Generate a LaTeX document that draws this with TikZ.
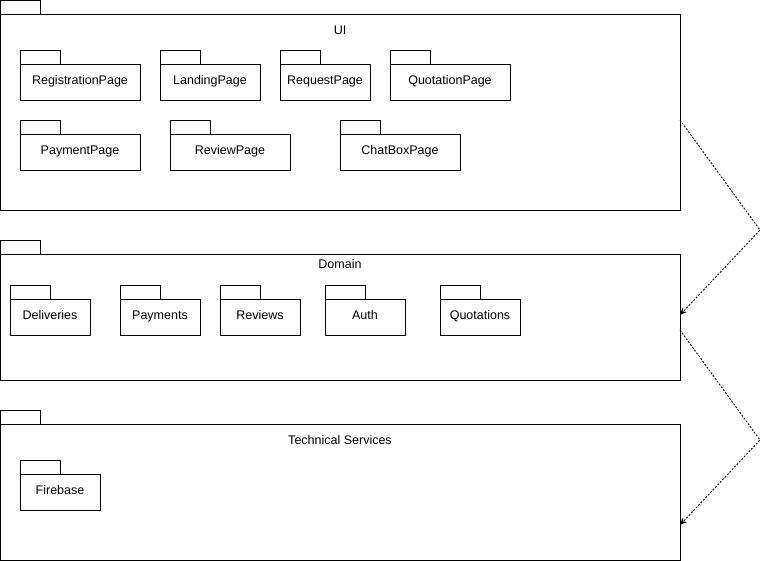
\documentclass[tikz,border=0pt]{standalone}
\usepackage{fontspec}
\setmainfont{Liberation Sans}
\usetikzlibrary{arrows.meta}

\begin{document}
\begin{tikzpicture}[x=1pt,y=-1pt,
font=\fontsize{12.5}{14}\selectfont,
every node/.style={outer sep=0pt,inner sep=0pt,text height=9pt,text depth=4.5pt},
pkgbox/.style={draw,line width=0.8pt,anchor=north west,minimum height=36pt},
pkgtab/.style={draw,line width=0.8pt,anchor=south west,minimum width=40pt,minimum height=14pt},
bigbox/.style={draw,line width=0.8pt,anchor=north west,minimum width=680pt},
dep/.style={dash pattern=on 2pt off 1.5pt,line width=0.9pt,-{Stealth[length=7pt,width=6pt]}}]
\useasboundingbox (0,0) rectangle (769,561);
% layers
\node[bigbox,minimum height=196pt] (ui) at (0,14) {};
\node[pkgtab] at (ui.north west) {};
\node at ([yshift=-18pt]ui.north) {UI};
\node[bigbox,minimum height=126pt] (dom) at (0,254) {};
\node[pkgtab] at (dom.north west) {};
\node at ([yshift=-12pt]dom.north) {Domain};
\node[bigbox,minimum height=136pt] (tech) at (0,424) {};
\node[pkgtab] at (tech.north west) {};
\node at ([yshift=-18pt]tech.north) {Technical Services};
% packages
\foreach \name/\x/\y/\w/\txt in {reg/20/64/120/RegistrationPage,land/160/64/100/LandingPage,
req/280/64/90/RequestPage,quot/390/64/120/QuotationPage,
pay/20/134/120/PaymentPage,rev/170/134/120/ReviewPage,chat/340/134/120/ChatBoxPage,
deliv/10/299/80/Deliveries,pays/120/299/80/Payments,revs/220/299/80/Reviews,
auth/325/299/80/Auth,quots/440/299/80/Quotations,fire/20/474/80/Firebase}
{
\node[pkgbox,minimum width=\w pt] (\name) at (\x,\y) {\txt};
\node[pkgtab] at (\name.north west) {};
}
% dependencies
\coordinate (b1) at (760,230);
\coordinate (b2) at (760,440);
\draw[dep] (ui.east |- 0,120) -- (b1) -- (dom.east |- 0,315);
\draw[dep] (dom.east |- 0,330) -- (b2) -- (tech.east |- 0,525);
\end{tikzpicture}
\end{document}
